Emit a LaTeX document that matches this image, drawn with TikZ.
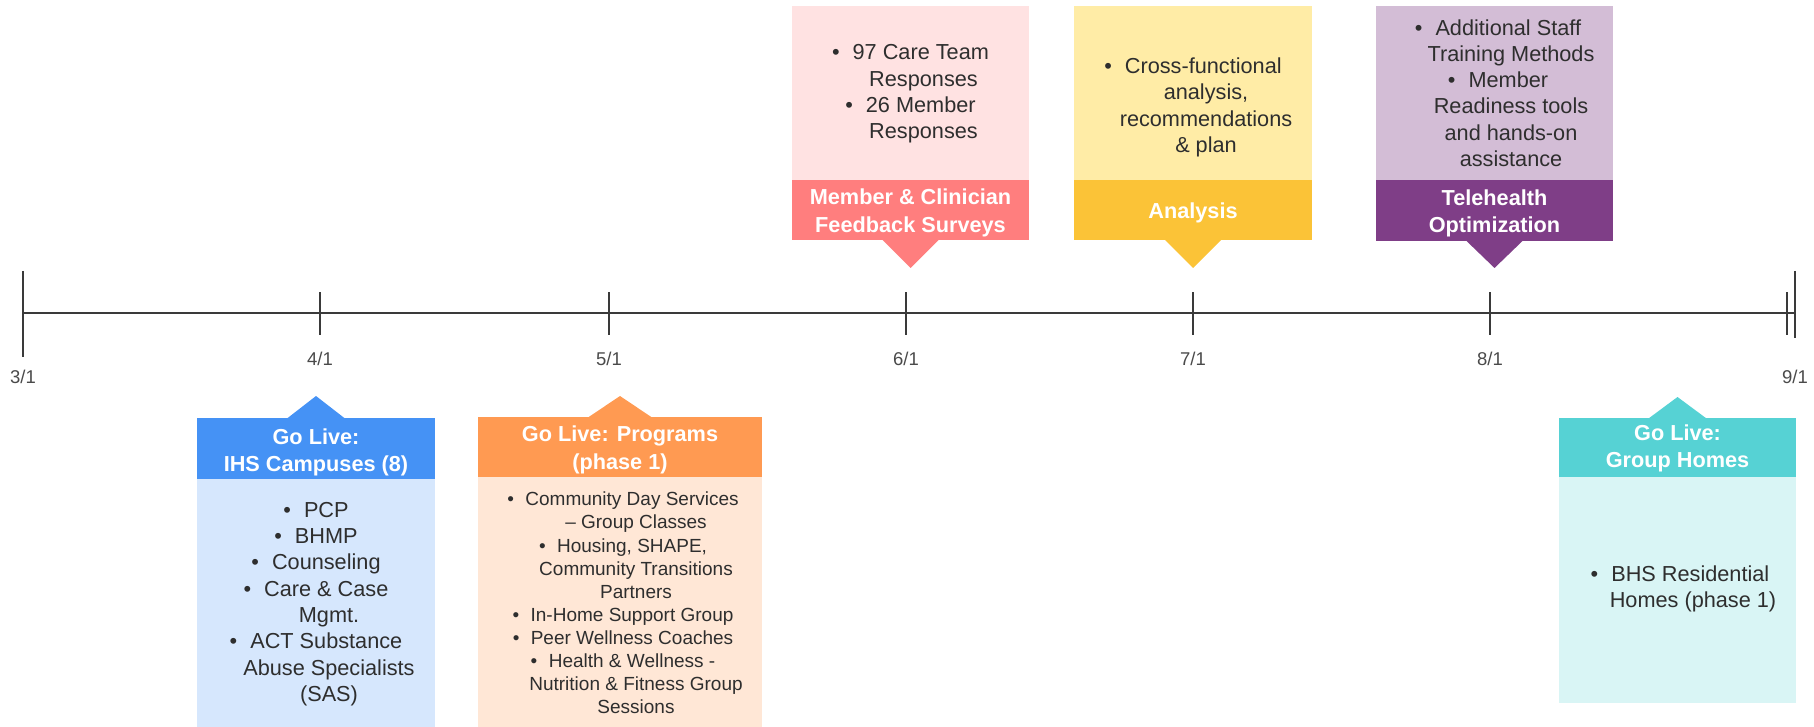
\documentclass[tikz,border=0pt]{standalone}
\usepackage{fontspec}
\setmainfont{Liberation Sans}
\usetikzlibrary{calc}

\definecolor{axisgray}{HTML}{3A3A3A}
\definecolor{labelgray}{HTML}{4A4A4A}
\definecolor{bodytext}{HTML}{2E2E2E}
\definecolor{blueH}{HTML}{4592F5}
\definecolor{blueB}{HTML}{D6E7FD}
\definecolor{orangeH}{HTML}{FF9A52}
\definecolor{orangeB}{HTML}{FFE7D6}
\definecolor{pinkH}{HTML}{FF7E7E}
\definecolor{pinkB}{HTML}{FFE2E2}
\definecolor{yellowH}{HTML}{FBC337}
\definecolor{yellowB}{HTML}{FFECA6}
\definecolor{purpleH}{HTML}{7F3E87}
\definecolor{purpleB}{HTML}{D3BDD6}
\definecolor{tealH}{HTML}{56D2D4}
\definecolor{tealB}{HTML}{D9F5F5}

% bullet at the start of an item, indent for wrapped item lines
\newcommand{\itembul}{•\hspace{0.6em}}
\newcommand{\contline}{\hspace*{26pt}}

\tikzset{
  axis/.style={draw=axisgray, line width=2pt},
  datelbl/.style={text=labelgray, font=\fontsize{18.5}{20}\selectfont, inner sep=0pt},
  panel/.style={rectangle, inner sep=0pt, outer sep=0pt, anchor=north west},
  hdrtxt/.style={inner sep=0pt, text=white, align=center,
    font=\fontsize{21.7}{27.5}\selectfont\bfseries},
  bodytxt/.style={text=bodytext, align=center, inner sep=0pt,
    font=\fontsize{21.7}{26.3}\selectfont},
  smalltxt/.style={text=bodytext, align=center, inner sep=0pt,
    font=\fontsize{19}{23.1}\selectfont},
}

\begin{document}
\begin{tikzpicture}[x=1pt, y=-1pt]
\useasboundingbox (0,0) rectangle (1814,727);

% ---------- time axis ----------
\coordinate (m3) at (23,313);
\coordinate (m4) at (320,313);
\coordinate (m5) at (609,313);
\coordinate (m6) at (906,313);
\coordinate (m7) at (1193,313);
\coordinate (m8) at (1490,313);
\coordinate (m9) at (1787,313);
\coordinate (axend) at (1795,313);

\draw[axis] (m3) -- (axend);
\draw[axis] (m3) ++(0,-42) -- ++(0,86);
\draw[axis] (axend) ++(0,-42) -- ++(0,67);
\foreach \m in {m4,m5,m6,m7,m8,m9}
  \draw[axis] (\m) ++(0,-21) -- ++(0,43);

\node[datelbl] (d3) at (23,377) {3/1};
\node[datelbl] (d4) at (320,359) {4/1};
\node[datelbl] (d5) at (609,359) {5/1};
\node[datelbl] (d6) at (906,359) {6/1};
\node[datelbl] (d7) at (1193,359) {7/1};
\node[datelbl] (d8) at (1490,359) {8/1};
\node[datelbl] (d9) at (1795,377) {9/1};

% ---------- events above the axis ----------
% Feedback surveys
\node[panel, fill=pinkB, minimum width=237pt, minimum height=175pt] (fbBody) at (792,6) {};
\node[panel, fill=pinkH, minimum width=237pt, minimum height=60pt] (fbHead) at (792,180) {};
\fill[pinkH] ($(fbHead.south)+(-28.5,-0.5)$) -- ($(fbHead.south)+(28.5,-0.5)$)
  -- ($(fbHead.south)+(0,28)$) -- cycle;
\node[hdrtxt] (fbTitle) at ($(fbHead.center)+(0,3)$) {Member \& Clinician\\Feedback Surveys};
\node[bodytxt] (fbText) at (910.5,94)
  {\itembul 97 Care Team\\\contline Responses\\\itembul 26 Member\\\contline Responses};

% Analysis
\node[panel, fill=yellowB, minimum width=238pt, minimum height=175pt] (anBody) at (1074,6) {};
\node[panel, fill=yellowH, minimum width=238pt, minimum height=60pt] (anHead) at (1074,180) {};
\fill[yellowH] ($(anHead.south)+(-28.5,-0.5)$) -- ($(anHead.south)+(28.5,-0.5)$)
  -- ($(anHead.south)+(0,28)$) -- cycle;
\node[hdrtxt] (anTitle) at ($(anHead.center)+(0,3)$) {Analysis};
\node[bodytxt] (anText) at (1193,107.5)
  {\itembul Cross-functional\\\contline analysis,\\\contline recommendations\\\contline \& plan};

% Telehealth optimization
\node[panel, fill=purpleB, minimum width=237pt, minimum height=175pt] (thBody) at (1376,6) {};
\node[panel, fill=purpleH, minimum width=237pt, minimum height=61pt] (thHead) at (1376,180) {};
\fill[purpleH] ($(thHead.south)+(-28.5,-0.5)$) -- ($(thHead.south)+(28.5,-0.5)$)
  -- ($(thHead.south)+(0,27)$) -- cycle;
\node[hdrtxt] (thTitle) at ($(thHead.center)+(0,3)$) {Telehealth\\Optimization};
\node[bodytxt] (thText) at (1498,93)
  {\itembul Additional Staff\\\contline Training Methods\\\itembul Member\\\contline Readiness tools\\\contline and hands-on\\\contline assistance};

% ---------- events below the axis ----------
% IHS campuses
\node[panel, fill=blueH, minimum width=238pt, minimum height=61pt] (ihsHead) at (197,418) {};
\node[panel, fill=blueB, minimum width=238pt, minimum height=249pt] (ihsBody) at (197,478.5) {};
\fill[blueH] ($(ihsHead.north)+(-29,0.5)$) -- ($(ihsHead.north)+(29,0.5)$)
  -- ($(ihsHead.north)+(0,-22)$) -- cycle;
\node[hdrtxt] (ihsTitle) at ($(ihsHead.center)+(0,4)$) {Go Live:\\IHS Campuses (8)};
\node[bodytxt] (ihsText) at (316,604)
  {\itembul PCP\\\itembul BHMP\\\itembul Counseling\\\itembul Care \& Case\\\contline Mgmt.\\\itembul ACT Substance\\\contline Abuse Specialists\\\contline (SAS)};

% Programs
\node[panel, fill=orangeH, minimum width=284pt, minimum height=60pt] (prHead) at (478,417) {};
\node[panel, fill=orangeB, minimum width=284pt, minimum height=250pt] (prBody) at (478,476.5) {};
\fill[orangeH] ($(prHead.north)+(-32,0.5)$) -- ($(prHead.north)+(32,0.5)$)
  -- ($(prHead.north)+(0,-21)$) -- cycle;
\node[hdrtxt] (prTitle) at ($(prHead.center)+(0,3)$) {Go Live: Programs\\(phase 1)};
\node[smalltxt] (prText) at (623,603)
  {\itembul Community Day Services\\\contline – Group Classes\\\itembul Housing, SHAPE,\\\contline Community Transitions\\\contline Partners\\\itembul In-Home Support Group\\\itembul Peer Wellness Coaches\\\itembul Health \& Wellness -\\\contline Nutrition \& Fitness Group\\\contline Sessions};

% Group homes
\node[panel, fill=tealH, minimum width=237pt, minimum height=59pt] (ghHead) at (1559,418) {};
\node[panel, fill=tealB, minimum width=237pt, minimum height=226pt] (ghBody) at (1559,476.5) {};
\fill[tealH] ($(ghHead.north)+(-29,0.5)$) -- ($(ghHead.north)+(29,0.5)$)
  -- ($(ghHead.north)+(0,-21)$) -- cycle;
\node[hdrtxt] (ghTitle) at ($(ghHead.center)+(0,1)$) {Go Live:\\Group Homes};
\node[bodytxt] (ghText) at (1680,589)
  {\itembul BHS Residential\\\contline Homes (phase 1)};

\end{tikzpicture}
\end{document}
